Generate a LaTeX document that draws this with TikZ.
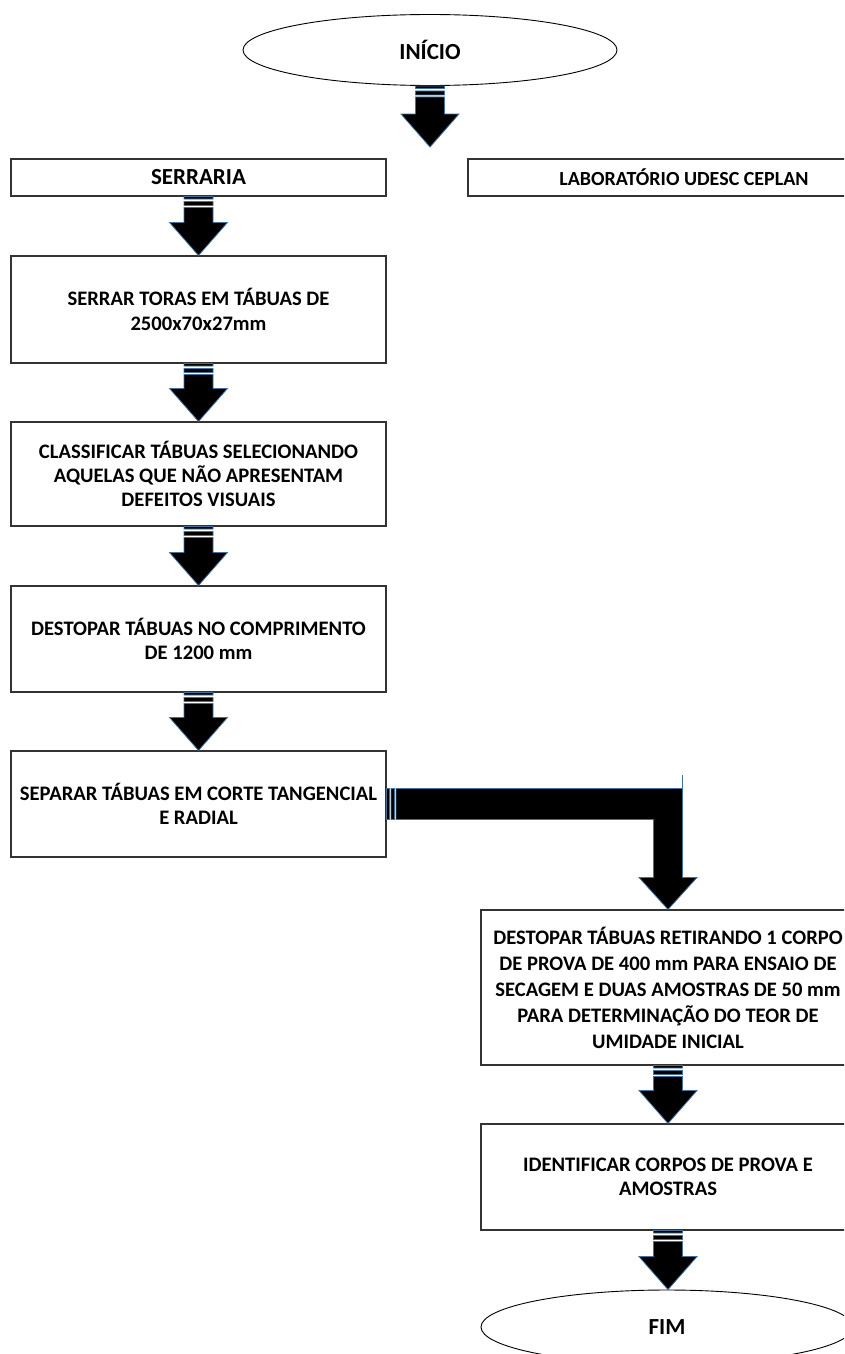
\documentclass[tikz,border=0pt]{standalone}
\usepackage{fontspec}
\setmainfont{Carlito}
\usetikzlibrary{shapes.geometric,calc}
\definecolor{arrowblue}{HTML}{41719C}
\tikzset{
  boxnode/.style={draw=black!80, line width=1.1pt, rectangle, inner sep=0pt, align=center,
    font=\bfseries\fontsize{20.6pt}{24.3pt}\selectfont},
  titlefont/.style={font=\bfseries\fontsize{23pt}{26pt}\selectfont},
  ovalnode/.style={draw=black, line width=0.9pt, ellipse, inner sep=0pt, titlefont},
  arrowfill/.style={fill=black, draw=arrowblue, line width=0.8pt, line join=miter}
}
\newcommand{\sarrow}[2]{%
  \path[arrowfill] let \p1=(#1), \p2=(#2) in
    (\x1-14.5pt,\y1) rectangle (\x1+14.5pt,\y1-2.5pt)
    (\x1-14.5pt,\y1-5pt) rectangle (\x1+14.5pt,\y1-9pt)
    (\x1-14.5pt,\y1-11pt) -- (\x1-14.5pt,\y2+33pt) -- (\x1-29pt,\y2+33pt)
    -- (\x1,\y2) -- (\x1+29pt,\y2+33pt) -- (\x1+14.5pt,\y2+33pt)
    -- (\x1+14.5pt,\y1-11pt) -- cycle;}
\begin{document}
\begin{tikzpicture}[x=1pt,y=-1pt]
\useasboundingbox (0,0) rectangle (844,1354);
\clip (0,0) rectangle (844,1354);
\fill[white] (0,0) rectangle (844,1354);

\node[ovalnode, minimum width=374pt, minimum height=71pt] (inicio) at (430,50) {INÍCIO};
\coordinate (a0end) at (430,147);

\node[boxnode, titlefont, minimum width=375pt, minimum height=37pt] (serraria) at (198.5,177.5) {SERRARIA};
\node[boxnode, font=\bfseries\fontsize{20pt}{24pt}\selectfont, minimum width=432pt, minimum height=37pt] (lab) at (684,177.5) {LABORATÓRIO UDESC CEPLAN};

\node[boxnode, minimum width=375pt, minimum height=107pt] (b1) at (198.5,309.5)
  {SERRAR TORAS EM TÁBUAS DE\\2500x70x27mm};
\node[boxnode, minimum width=375pt, minimum height=104pt] (b2) at (198.5,474)
  {CLASSIFICAR TÁBUAS SELECIONANDO\\AQUELAS QUE NÃO APRESENTAM\\DEFEITOS VISUAIS};
\node[boxnode, minimum width=375pt, minimum height=106pt] (b3) at (198.5,639)
  {DESTOPAR TÁBUAS NO COMPRIMENTO\\DE 1200 mm};
\node[boxnode, minimum width=375pt, minimum height=106pt] (b4) at (198.5,804)
  {SEPARAR TÁBUAS EM CORTE TANGENCIAL\\E RADIAL};
\node[boxnode, minimum width=374pt, minimum height=155pt,
  font=\bfseries\fontsize{20.6pt}{26pt}\selectfont] (b5) at (668,987.5)
  {DESTOPAR TÁBUAS RETIRANDO 1 CORPO\\DE PROVA DE 400 mm PARA ENSAIO DE\\SECAGEM E DUAS AMOSTRAS DE 50 mm\\PARA DETERMINAÇÃO DO TEOR DE\\UMIDADE INICIAL};
\node[boxnode, minimum width=374pt, minimum height=106pt] (b6) at (668,1177)
  {IDENTIFICAR CORPOS DE PROVA E\\AMOSTRAS};
\node[ovalnode, minimum width=372pt, minimum height=74pt] (fim) at (667,1327) {FIM};

\sarrow{inicio.south}{a0end}
\sarrow{serraria.south}{b1.north}
\sarrow{b1.south}{b2.north}
\sarrow{b2.south}{b3.north}
\sarrow{b3.south}{b4.north}
\sarrow{b5.south}{b6.north}
\sarrow{b6.south}{fim.north}

% elbow arrow from b4 to b5
\path[arrowfill] let \p1=(b4.east), \p2=(b5.north) in
  (\x1,\y1+15.5pt) rectangle (\x1+3pt,\y1-15.5pt)
  (\x1+4.5pt,\y1+15.5pt) rectangle (\x1+8pt,\y1-15.5pt)
  (\x1+9.5pt,\y1+15.5pt) -- (\x2+14.5pt,\y1+15.5pt) -- (\x2+14.5pt,\y2+32pt)
  -- (\x2+29pt,\y2+32pt) -- (\x2,\y2) -- (\x2-29pt,\y2+32pt) -- (\x2-14.5pt,\y2+32pt)
  -- (\x2-14.5pt,\y1-15.5pt) -- (\x1+9.5pt,\y1-15.5pt) -- cycle;
\draw[arrowblue, line width=0.9pt] let \p1=(b4.east), \p2=(b5.north) in
  (\x2+14.5pt,\y1+15.5pt) -- (\x2+14.5pt,\y1+29pt);
\end{tikzpicture}
\end{document}
